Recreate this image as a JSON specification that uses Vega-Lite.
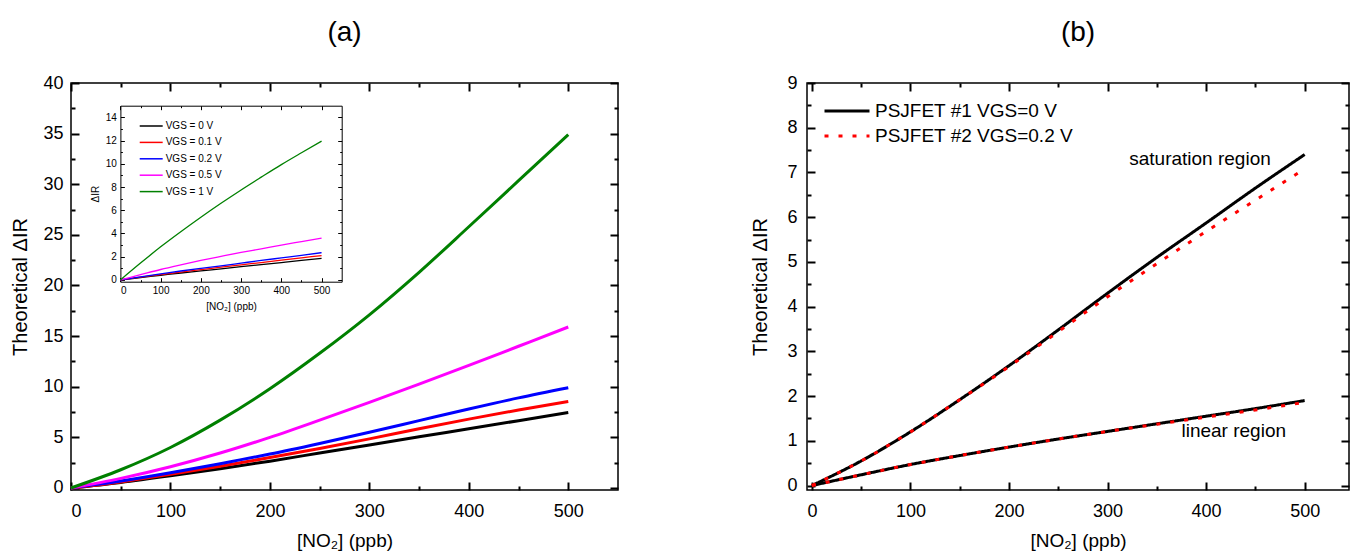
{
  "$schema": "https://vega.github.io/schema/vega-lite/v6.json",
  "background": "white",
  "padding": {"left": 10, "top": 18, "right": 0, "bottom": 0},
  "spacing": 130,
  "resolve": {"scale": {"color": "independent", "strokeDash": "independent"}, "legend": {"color": "independent", "strokeDash": "independent"}},
  "config": {
    "font": "Liberation Sans",
    "view": {"stroke": "black", "strokeWidth": 1.5},
    "axis": {"grid": false, "domain": false, "ticks": true, "tickOpacity": 1, "tickColor": "black", "labelColor": "black", "titleColor": "black", "titleFontWeight": "normal", "labelFont": "Liberation Sans", "titleFont": "Liberation Sans", "format": "d", "zindex": 1},
    "title": {"fontSize": 28, "fontWeight": "normal", "color": "black", "font": "Liberation Sans", "anchor": "middle", "offset": 27},
    "legend": {"labelFont": "Liberation Sans", "labelColor": "black", "labelLimit": 0}
  },
  "datasets": {
    "main": [
      {"s": "VGS = 0 V", "x": 0, "y": 0}, {"s": "VGS = 0 V", "x": 50, "y": 0.55}, {"s": "VGS = 0 V", "x": 100, "y": 1.2}, {"s": "VGS = 0 V", "x": 150, "y": 1.9}, {"s": "VGS = 0 V", "x": 200, "y": 2.65}, {"s": "VGS = 0 V", "x": 250, "y": 3.45}, {"s": "VGS = 0 V", "x": 300, "y": 4.25}, {"s": "VGS = 0 V", "x": 350, "y": 5.05}, {"s": "VGS = 0 V", "x": 400, "y": 5.85}, {"s": "VGS = 0 V", "x": 450, "y": 6.65}, {"s": "VGS = 0 V", "x": 500, "y": 7.45},
      {"s": "VGS = 0.1 V", "x": 0, "y": 0}, {"s": "VGS = 0.1 V", "x": 50, "y": 0.6}, {"s": "VGS = 0.1 V", "x": 100, "y": 1.35}, {"s": "VGS = 0.1 V", "x": 150, "y": 2.15}, {"s": "VGS = 0.1 V", "x": 200, "y": 3.0}, {"s": "VGS = 0.1 V", "x": 250, "y": 3.9}, {"s": "VGS = 0.1 V", "x": 300, "y": 4.85}, {"s": "VGS = 0.1 V", "x": 350, "y": 5.85}, {"s": "VGS = 0.1 V", "x": 400, "y": 6.8}, {"s": "VGS = 0.1 V", "x": 450, "y": 7.7}, {"s": "VGS = 0.1 V", "x": 500, "y": 8.55},
      {"s": "VGS = 0.2 V", "x": 0, "y": 0}, {"s": "VGS = 0.2 V", "x": 50, "y": 0.68}, {"s": "VGS = 0.2 V", "x": 100, "y": 1.5}, {"s": "VGS = 0.2 V", "x": 150, "y": 2.4}, {"s": "VGS = 0.2 V", "x": 200, "y": 3.35}, {"s": "VGS = 0.2 V", "x": 250, "y": 4.4}, {"s": "VGS = 0.2 V", "x": 300, "y": 5.5}, {"s": "VGS = 0.2 V", "x": 350, "y": 6.65}, {"s": "VGS = 0.2 V", "x": 400, "y": 7.8}, {"s": "VGS = 0.2 V", "x": 450, "y": 8.9}, {"s": "VGS = 0.2 V", "x": 500, "y": 9.9},
      {"s": "VGS = 0.5 V", "x": 0, "y": 0}, {"s": "VGS = 0.5 V", "x": 50, "y": 0.95}, {"s": "VGS = 0.5 V", "x": 100, "y": 2.1}, {"s": "VGS = 0.5 V", "x": 150, "y": 3.45}, {"s": "VGS = 0.5 V", "x": 200, "y": 5.0}, {"s": "VGS = 0.5 V", "x": 250, "y": 6.7}, {"s": "VGS = 0.5 V", "x": 300, "y": 8.45}, {"s": "VGS = 0.5 V", "x": 350, "y": 10.25}, {"s": "VGS = 0.5 V", "x": 400, "y": 12.1}, {"s": "VGS = 0.5 V", "x": 450, "y": 14.0}, {"s": "VGS = 0.5 V", "x": 500, "y": 15.9},
      {"s": "VGS = 1 V", "x": 0, "y": 0}, {"s": "VGS = 1 V", "x": 50, "y": 1.8}, {"s": "VGS = 1 V", "x": 100, "y": 4.0}, {"s": "VGS = 1 V", "x": 150, "y": 6.7}, {"s": "VGS = 1 V", "x": 200, "y": 9.8}, {"s": "VGS = 1 V", "x": 250, "y": 13.3}, {"s": "VGS = 1 V", "x": 300, "y": 17.1}, {"s": "VGS = 1 V", "x": 350, "y": 21.3}, {"s": "VGS = 1 V", "x": 400, "y": 25.8}, {"s": "VGS = 1 V", "x": 450, "y": 30.35}, {"s": "VGS = 1 V", "x": 500, "y": 34.9}
    ],
    "inset": [
      {"s": "VGS = 0 V", "x": 0, "y": 0}, {"s": "VGS = 0 V", "x": 50, "y": 0.2}, {"s": "VGS = 0 V", "x": 100, "y": 0.4}, {"s": "VGS = 0 V", "x": 150, "y": 0.6}, {"s": "VGS = 0 V", "x": 200, "y": 0.78}, {"s": "VGS = 0 V", "x": 250, "y": 0.96}, {"s": "VGS = 0 V", "x": 300, "y": 1.14}, {"s": "VGS = 0 V", "x": 350, "y": 1.32}, {"s": "VGS = 0 V", "x": 400, "y": 1.5}, {"s": "VGS = 0 V", "x": 450, "y": 1.68}, {"s": "VGS = 0 V", "x": 500, "y": 1.85},
      {"s": "VGS = 0.1 V", "x": 0, "y": 0}, {"s": "VGS = 0.1 V", "x": 50, "y": 0.24}, {"s": "VGS = 0.1 V", "x": 100, "y": 0.46}, {"s": "VGS = 0.1 V", "x": 150, "y": 0.68}, {"s": "VGS = 0.1 V", "x": 200, "y": 0.89}, {"s": "VGS = 0.1 V", "x": 250, "y": 1.1}, {"s": "VGS = 0.1 V", "x": 300, "y": 1.3}, {"s": "VGS = 0.1 V", "x": 350, "y": 1.5}, {"s": "VGS = 0.1 V", "x": 400, "y": 1.7}, {"s": "VGS = 0.1 V", "x": 450, "y": 1.9}, {"s": "VGS = 0.1 V", "x": 500, "y": 2.1},
      {"s": "VGS = 0.2 V", "x": 0, "y": 0}, {"s": "VGS = 0.2 V", "x": 50, "y": 0.27}, {"s": "VGS = 0.2 V", "x": 100, "y": 0.52}, {"s": "VGS = 0.2 V", "x": 150, "y": 0.77}, {"s": "VGS = 0.2 V", "x": 200, "y": 1.0}, {"s": "VGS = 0.2 V", "x": 250, "y": 1.22}, {"s": "VGS = 0.2 V", "x": 300, "y": 1.45}, {"s": "VGS = 0.2 V", "x": 350, "y": 1.68}, {"s": "VGS = 0.2 V", "x": 400, "y": 1.9}, {"s": "VGS = 0.2 V", "x": 450, "y": 2.12}, {"s": "VGS = 0.2 V", "x": 500, "y": 2.35},
      {"s": "VGS = 0.5 V", "x": 0, "y": 0}, {"s": "VGS = 0.5 V", "x": 50, "y": 0.45}, {"s": "VGS = 0.5 V", "x": 100, "y": 0.9}, {"s": "VGS = 0.5 V", "x": 150, "y": 1.3}, {"s": "VGS = 0.5 V", "x": 200, "y": 1.68}, {"s": "VGS = 0.5 V", "x": 250, "y": 2.03}, {"s": "VGS = 0.5 V", "x": 300, "y": 2.37}, {"s": "VGS = 0.5 V", "x": 350, "y": 2.68}, {"s": "VGS = 0.5 V", "x": 400, "y": 3.0}, {"s": "VGS = 0.5 V", "x": 450, "y": 3.3}, {"s": "VGS = 0.5 V", "x": 500, "y": 3.6},
      {"s": "VGS = 1 V", "x": 0, "y": 0}, {"s": "VGS = 1 V", "x": 50, "y": 1.45}, {"s": "VGS = 1 V", "x": 100, "y": 2.85}, {"s": "VGS = 1 V", "x": 150, "y": 4.15}, {"s": "VGS = 1 V", "x": 200, "y": 5.4}, {"s": "VGS = 1 V", "x": 250, "y": 6.6}, {"s": "VGS = 1 V", "x": 300, "y": 7.75}, {"s": "VGS = 1 V", "x": 350, "y": 8.85}, {"s": "VGS = 1 V", "x": 400, "y": 9.93}, {"s": "VGS = 1 V", "x": 450, "y": 10.95}, {"s": "VGS = 1 V", "x": 500, "y": 11.95}
    ],
    "psj": [
      {"dev": "PSJFET #1 VGS=0 V", "reg": "saturation", "x": 0, "y": 0}, {"dev": "PSJFET #1 VGS=0 V", "reg": "saturation", "x": 50, "y": 0.55}, {"dev": "PSJFET #1 VGS=0 V", "reg": "saturation", "x": 100, "y": 1.2}, {"dev": "PSJFET #1 VGS=0 V", "reg": "saturation", "x": 150, "y": 1.92}, {"dev": "PSJFET #1 VGS=0 V", "reg": "saturation", "x": 200, "y": 2.68}, {"dev": "PSJFET #1 VGS=0 V", "reg": "saturation", "x": 250, "y": 3.48}, {"dev": "PSJFET #1 VGS=0 V", "reg": "saturation", "x": 300, "y": 4.3}, {"dev": "PSJFET #1 VGS=0 V", "reg": "saturation", "x": 350, "y": 5.1}, {"dev": "PSJFET #1 VGS=0 V", "reg": "saturation", "x": 400, "y": 5.87}, {"dev": "PSJFET #1 VGS=0 V", "reg": "saturation", "x": 450, "y": 6.65}, {"dev": "PSJFET #1 VGS=0 V", "reg": "saturation", "x": 500, "y": 7.4},
      {"dev": "PSJFET #1 VGS=0 V", "reg": "linear", "x": 0, "y": 0}, {"dev": "PSJFET #1 VGS=0 V", "reg": "linear", "x": 50, "y": 0.24}, {"dev": "PSJFET #1 VGS=0 V", "reg": "linear", "x": 100, "y": 0.47}, {"dev": "PSJFET #1 VGS=0 V", "reg": "linear", "x": 150, "y": 0.67}, {"dev": "PSJFET #1 VGS=0 V", "reg": "linear", "x": 200, "y": 0.86}, {"dev": "PSJFET #1 VGS=0 V", "reg": "linear", "x": 250, "y": 1.04}, {"dev": "PSJFET #1 VGS=0 V", "reg": "linear", "x": 300, "y": 1.21}, {"dev": "PSJFET #1 VGS=0 V", "reg": "linear", "x": 350, "y": 1.38}, {"dev": "PSJFET #1 VGS=0 V", "reg": "linear", "x": 400, "y": 1.55}, {"dev": "PSJFET #1 VGS=0 V", "reg": "linear", "x": 450, "y": 1.72}, {"dev": "PSJFET #1 VGS=0 V", "reg": "linear", "x": 500, "y": 1.9},
      {"dev": "PSJFET #2 VGS=0.2 V", "reg": "saturation", "x": 0, "y": 0}, {"dev": "PSJFET #2 VGS=0.2 V", "reg": "saturation", "x": 50, "y": 0.55}, {"dev": "PSJFET #2 VGS=0.2 V", "reg": "saturation", "x": 100, "y": 1.2}, {"dev": "PSJFET #2 VGS=0.2 V", "reg": "saturation", "x": 150, "y": 1.92}, {"dev": "PSJFET #2 VGS=0.2 V", "reg": "saturation", "x": 200, "y": 2.66}, {"dev": "PSJFET #2 VGS=0.2 V", "reg": "saturation", "x": 250, "y": 3.44}, {"dev": "PSJFET #2 VGS=0.2 V", "reg": "saturation", "x": 300, "y": 4.22}, {"dev": "PSJFET #2 VGS=0.2 V", "reg": "saturation", "x": 350, "y": 4.96}, {"dev": "PSJFET #2 VGS=0.2 V", "reg": "saturation", "x": 400, "y": 5.68}, {"dev": "PSJFET #2 VGS=0.2 V", "reg": "saturation", "x": 450, "y": 6.38}, {"dev": "PSJFET #2 VGS=0.2 V", "reg": "saturation", "x": 500, "y": 7.08},
      {"dev": "PSJFET #2 VGS=0.2 V", "reg": "linear", "x": 0, "y": 0}, {"dev": "PSJFET #2 VGS=0.2 V", "reg": "linear", "x": 50, "y": 0.24}, {"dev": "PSJFET #2 VGS=0.2 V", "reg": "linear", "x": 100, "y": 0.47}, {"dev": "PSJFET #2 VGS=0.2 V", "reg": "linear", "x": 150, "y": 0.67}, {"dev": "PSJFET #2 VGS=0.2 V", "reg": "linear", "x": 200, "y": 0.86}, {"dev": "PSJFET #2 VGS=0.2 V", "reg": "linear", "x": 250, "y": 1.04}, {"dev": "PSJFET #2 VGS=0.2 V", "reg": "linear", "x": 300, "y": 1.21}, {"dev": "PSJFET #2 VGS=0.2 V", "reg": "linear", "x": 350, "y": 1.37}, {"dev": "PSJFET #2 VGS=0.2 V", "reg": "linear", "x": 400, "y": 1.53}, {"dev": "PSJFET #2 VGS=0.2 V", "reg": "linear", "x": 450, "y": 1.69}, {"dev": "PSJFET #2 VGS=0.2 V", "reg": "linear", "x": 500, "y": 1.86}
    ],
    "notes": [
      {"label": "saturation region", "x": 322, "y": 7.3},
      {"label": "linear region", "x": 375, "y": 1.23}
    ]
  },
  "hconcat": [
    {
      "width": 547,
      "height": 407,
      "title": {"text": "(a)"},
      "resolve": {"scale": {"x": "independent", "y": "independent"}, "axis": {"x": "independent", "y": "independent"}},
      "layer": [
        {
          "data": {"name": "main"},
          "mark": {"type": "line", "strokeWidth": 3, "interpolate": "monotone"},
          "encoding": {
            "x": {"field": "x", "type": "quantitative", "scale": {"domain": [0, 550], "nice": false, "zero": false},
              "axis": {"orient": "bottom", "offset": -8, "values": [0, 100, 200, 300, 400, 500], "tickSize": 8, "tickWidth": 2,
                "labelFontSize": 18, "labelPadding": 12, "title": "[NO₂] (ppb)", "titleFontSize": 19, "titlePadding": 11}},
            "y": {"field": "y", "type": "quantitative", "scale": {"domain": [-0.2, 40], "nice": false, "zero": false},
              "axis": {"orient": "left", "offset": -8, "values": [0, 5, 10, 15, 20, 25, 30, 35, 40], "tickSize": 8, "tickWidth": 2,
                "labelFontSize": 18, "labelPadding": 8, "title": "Theoretical ΔIR", "titleFontSize": 20, "titlePadding": 12}},
            "color": {"field": "s", "type": "nominal",
              "scale": {"domain": ["VGS = 0 V", "VGS = 0.1 V", "VGS = 0.2 V", "VGS = 0.5 V", "VGS = 1 V"], "range": ["#000000", "#ff0000", "#0000ff", "#ff00ff", "#008000"]},
              "legend": {"orient": "none", "legendX": 73.7, "legendY": 36.5, "title": null, "padding": 0,
                "symbolType": "M-2,0H2", "symbolSize": 132, "symbolStrokeWidth": 1.5, "labelFontSize": 10, "labelOffset": 8, "rowPadding": 4.4}}
          }
        },
        {
          "data": {"name": "main"},
          "mark": {"type": "point", "opacity": 0},
          "encoding": {
            "x": {"field": "x", "type": "quantitative", "scale": {"domain": [0, 550], "nice": false, "zero": false},
              "axis": {"orient": "top", "offset": -8, "values": [0, 100, 200, 300, 400, 500], "tickSize": 8, "tickWidth": 2, "labels": false, "title": null}},
            "y": {"field": "y", "type": "quantitative", "scale": {"domain": [-0.2, 40], "nice": false, "zero": false},
              "axis": {"orient": "right", "offset": -8, "values": [0, 5, 10, 15, 20, 25, 30, 35, 40], "tickSize": 8, "tickWidth": 2, "labels": false, "title": null}}
          }
        },
        {
          "data": {"name": "main"},
          "mark": {"type": "point", "opacity": 0},
          "encoding": {
            "x": {"field": "x", "type": "quantitative", "scale": {"domain": [0, 550], "nice": false, "zero": false},
              "axis": {"orient": "bottom", "offset": -4, "values": [50, 150, 250, 350, 450], "tickSize": 4, "tickWidth": 2, "labels": false, "title": null}},
            "y": {"field": "y", "type": "quantitative", "scale": {"domain": [-0.2, 40], "nice": false, "zero": false},
              "axis": {"orient": "left", "offset": -4, "values": [2.5, 7.5, 12.5, 17.5, 22.5, 27.5, 32.5, 37.5], "tickSize": 4, "tickWidth": 2, "labels": false, "title": null}}
          }
        },
        {
          "data": {"name": "main"},
          "mark": {"type": "point", "opacity": 0},
          "encoding": {
            "x": {"field": "x", "type": "quantitative", "scale": {"domain": [0, 550], "nice": false, "zero": false},
              "axis": {"orient": "top", "offset": -4, "values": [50, 150, 250, 350, 450], "tickSize": 4, "tickWidth": 2, "labels": false, "title": null}},
            "y": {"field": "y", "type": "quantitative", "scale": {"domain": [-0.2, 40], "nice": false, "zero": false},
              "axis": {"orient": "right", "offset": -4, "values": [2.5, 7.5, 12.5, 17.5, 22.5, 27.5, 32.5, 37.5], "tickSize": 4, "tickWidth": 2, "labels": false, "title": null}}
          }
        },
        {
          "data": {"name": "inset"},
          "mark": {"type": "line", "strokeWidth": 1.3, "interpolate": "monotone"},
          "encoding": {
            "x": {"field": "x", "type": "quantitative", "scale": {"domain": [0, 550], "nice": false, "zero": false, "range": [49.4, 270.7]},
              "axis": {"orient": "bottom", "offset": -208.3, "domain": true, "domainColor": "black", "domainWidth": 1,
                "values": [0, 100, 200, 300, 400, 500], "tickSize": 0, "tickWidth": 0,
                "labelFontSize": 10, "labelPadding": 4, "title": "[NO₂] (ppb)", "titleFontSize": 10, "titlePadding": 6}},
            "y": {"field": "y", "type": "quantitative", "scale": {"domain": [-0.15, 15], "nice": false, "zero": false, "range": [198.7, 22.7]},
              "axis": {"orient": "left", "offset": -49.4, "domain": true, "domainColor": "black", "domainWidth": 1,
                "values": [0, 2, 4, 6, 8, 10, 12, 14], "tickSize": 0, "tickWidth": 0,
                "labelFontSize": 10, "labelPadding": 4, "title": "ΔIR", "titleFontSize": 10, "titlePadding": 5}},
            "color": {"field": "s", "type": "nominal",
              "scale": {"domain": ["VGS = 0 V", "VGS = 0.1 V", "VGS = 0.2 V", "VGS = 0.5 V", "VGS = 1 V"], "range": ["#000000", "#ff0000", "#0000ff", "#ff00ff", "#008000"]},
              "legend": {"orient": "none", "legendX": 73.7, "legendY": 36.5, "title": null, "padding": 0,
                "symbolType": "M-2,0H2", "symbolSize": 132, "symbolStrokeWidth": 1.5, "labelFontSize": 10, "labelOffset": 8, "rowPadding": 4.4}}
          }
        },
        {
          "data": {"name": "inset"},
          "mark": {"type": "point", "opacity": 0},
          "encoding": {
            "x": {"field": "x", "type": "quantitative", "scale": {"domain": [0, 550], "nice": false, "zero": false, "range": [49.4, 270.7]},
              "axis": {"orient": "top", "offset": -22.7, "domain": true, "domainColor": "black", "domainWidth": 1, "ticks": false, "labels": false, "title": null}},
            "y": {"field": "y", "type": "quantitative", "scale": {"domain": [-0.15, 15], "nice": false, "zero": false, "range": [198.7, 22.7]},
              "axis": {"orient": "right", "offset": -276.3, "domain": true, "domainColor": "black", "domainWidth": 1, "ticks": false, "labels": false, "title": null}}
          }
        },
        {
          "data": {"name": "inset"},
          "mark": {"type": "point", "opacity": 0},
          "encoding": {
            "x": {"field": "x", "type": "quantitative", "scale": {"domain": [0, 550], "nice": false, "zero": false, "range": [49.4, 270.7]},
              "axis": {"orient": "bottom", "offset": -212.3, "values": [0, 100, 200, 300, 400, 500], "tickSize": 4, "tickWidth": 1, "labels": false, "title": null}},
            "y": {"field": "y", "type": "quantitative", "scale": {"domain": [-0.15, 15], "nice": false, "zero": false, "range": [198.7, 22.7]},
              "axis": {"orient": "left", "offset": -53.4, "values": [0, 2, 4, 6, 8, 10, 12, 14], "tickSize": 4, "tickWidth": 1, "labels": false, "title": null}}
          }
        },
        {
          "data": {"name": "inset"},
          "mark": {"type": "point", "opacity": 0},
          "encoding": {
            "x": {"field": "x", "type": "quantitative", "scale": {"domain": [0, 550], "nice": false, "zero": false, "range": [49.4, 270.7]},
              "axis": {"orient": "top", "offset": -26.7, "values": [0, 100, 200, 300, 400, 500], "tickSize": 4, "tickWidth": 1, "labels": false, "title": null}},
            "y": {"field": "y", "type": "quantitative", "scale": {"domain": [-0.15, 15], "nice": false, "zero": false, "range": [198.7, 22.7]},
              "axis": {"orient": "right", "offset": -280.3, "values": [0, 2, 4, 6, 8, 10, 12, 14], "tickSize": 4, "tickWidth": 1, "labels": false, "title": null}}
          }
        },
        {
          "data": {"name": "inset"},
          "mark": {"type": "point", "opacity": 0},
          "encoding": {
            "x": {"field": "x", "type": "quantitative", "scale": {"domain": [0, 550], "nice": false, "zero": false, "range": [49.4, 270.7]},
              "axis": {"orient": "bottom", "offset": -210.3, "values": [50, 150, 250, 350, 450], "tickSize": 2, "tickWidth": 1, "labels": false, "title": null}},
            "y": {"field": "y", "type": "quantitative", "scale": {"domain": [-0.15, 15], "nice": false, "zero": false, "range": [198.7, 22.7]},
              "axis": {"orient": "left", "offset": -51.4, "values": [1, 3, 5, 7, 9, 11, 13], "tickSize": 2, "tickWidth": 1, "labels": false, "title": null}}
          }
        },
        {
          "data": {"name": "inset"},
          "mark": {"type": "point", "opacity": 0},
          "encoding": {
            "x": {"field": "x", "type": "quantitative", "scale": {"domain": [0, 550], "nice": false, "zero": false, "range": [49.4, 270.7]},
              "axis": {"orient": "top", "offset": -24.7, "values": [50, 150, 250, 350, 450], "tickSize": 2, "tickWidth": 1, "labels": false, "title": null}},
            "y": {"field": "y", "type": "quantitative", "scale": {"domain": [-0.15, 15], "nice": false, "zero": false, "range": [198.7, 22.7]},
              "axis": {"orient": "right", "offset": -278.3, "values": [1, 3, 5, 7, 9, 11, 13], "tickSize": 2, "tickWidth": 1, "labels": false, "title": null}}
          }
        }
      ]
    },
    {
      "width": 542,
      "height": 407,
      "title": {"text": "(b)"},
      "resolve": {"axis": {"x": "independent", "y": "independent"}},
      "layer": [
        {
          "data": {"name": "psj"},
          "mark": {"type": "line", "strokeWidth": 3, "interpolate": "monotone"},
          "encoding": {
            "x": {"field": "x", "type": "quantitative", "scale": {"domain": [-5, 545], "nice": false, "zero": false},
              "axis": {"orient": "bottom", "offset": -8, "values": [0, 100, 200, 300, 400, 500], "tickSize": 8, "tickWidth": 2,
                "labelFontSize": 18, "labelPadding": 12, "title": "[NO₂] (ppb)", "titleFontSize": 19, "titlePadding": 11}},
            "y": {"field": "y", "type": "quantitative", "scale": {"domain": [-0.1, 9], "nice": false, "zero": false},
              "axis": {"orient": "left", "offset": -8, "values": [0, 1, 2, 3, 4, 5, 6, 7, 8, 9], "tickSize": 8, "tickWidth": 2,
                "labelFontSize": 18, "labelPadding": 10, "title": "Theoretical  ΔIR", "titleFontSize": 20, "titlePadding": 16}},
            "color": {"field": "dev", "type": "nominal",
              "scale": {"domain": ["PSJFET #1 VGS=0 V", "PSJFET #2 VGS=0.2 V"], "range": ["#000000", "#ff0000"]},
              "legend": {"orient": "none", "legendX": 27, "legendY": 15, "title": null, "padding": 0,
                "symbolType": "M-2,0H2", "symbolSize": 506, "symbolStrokeWidth": 3, "labelFontSize": 19, "labelOffset": 15, "rowPadding": 2}},
            "strokeDash": {"field": "dev", "type": "nominal",
              "scale": {"domain": ["PSJFET #1 VGS=0 V", "PSJFET #2 VGS=0.2 V"], "range": [[1, 0], [4, 10]]},
              "legend": {"orient": "none", "legendX": 27, "legendY": 15, "title": null, "padding": 0,
                "symbolType": "M-2,0H2", "symbolSize": 506, "symbolStrokeWidth": 3, "labelFontSize": 19, "labelOffset": 15, "rowPadding": 2}},
            "detail": {"field": "reg", "type": "nominal"}
          }
        },
        {
          "data": {"name": "psj"},
          "mark": {"type": "point", "opacity": 0},
          "encoding": {
            "x": {"field": "x", "type": "quantitative", "scale": {"domain": [-5, 545], "nice": false, "zero": false},
              "axis": {"orient": "top", "offset": -8, "values": [0, 100, 200, 300, 400, 500], "tickSize": 8, "tickWidth": 2, "labels": false, "title": null}},
            "y": {"field": "y", "type": "quantitative", "scale": {"domain": [-0.1, 9], "nice": false, "zero": false},
              "axis": {"orient": "right", "offset": -8, "values": [0, 1, 2, 3, 4, 5, 6, 7, 8, 9], "tickSize": 8, "tickWidth": 2, "labels": false, "title": null}}
          }
        },
        {
          "data": {"name": "psj"},
          "mark": {"type": "point", "opacity": 0},
          "encoding": {
            "x": {"field": "x", "type": "quantitative", "scale": {"domain": [-5, 545], "nice": false, "zero": false},
              "axis": {"orient": "bottom", "offset": -4, "values": [50, 150, 250, 350, 450], "tickSize": 4, "tickWidth": 2, "labels": false, "title": null}},
            "y": {"field": "y", "type": "quantitative", "scale": {"domain": [-0.1, 9], "nice": false, "zero": false},
              "axis": {"orient": "left", "offset": -4, "values": [0.5, 1.5, 2.5, 3.5, 4.5, 5.5, 6.5, 7.5, 8.5], "tickSize": 4, "tickWidth": 2, "labels": false, "title": null}}
          }
        },
        {
          "data": {"name": "psj"},
          "mark": {"type": "point", "opacity": 0},
          "encoding": {
            "x": {"field": "x", "type": "quantitative", "scale": {"domain": [-5, 545], "nice": false, "zero": false},
              "axis": {"orient": "top", "offset": -4, "values": [50, 150, 250, 350, 450], "tickSize": 4, "tickWidth": 2, "labels": false, "title": null}},
            "y": {"field": "y", "type": "quantitative", "scale": {"domain": [-0.1, 9], "nice": false, "zero": false},
              "axis": {"orient": "right", "offset": -4, "values": [0.5, 1.5, 2.5, 3.5, 4.5, 5.5, 6.5, 7.5, 8.5], "tickSize": 4, "tickWidth": 2, "labels": false, "title": null}}
          }
        },
        {
          "data": {"name": "notes"},
          "mark": {"type": "text", "fontSize": 19, "align": "left", "baseline": "middle", "color": "black", "font": "Liberation Sans"},
          "encoding": {
            "x": {"field": "x", "type": "quantitative", "scale": {"domain": [-5, 545], "nice": false, "zero": false}, "axis": null},
            "y": {"field": "y", "type": "quantitative", "scale": {"domain": [-0.1, 9], "nice": false, "zero": false}, "axis": null},
            "text": {"field": "label", "type": "nominal"}
          }
        }
      ]
    }
  ]
}
